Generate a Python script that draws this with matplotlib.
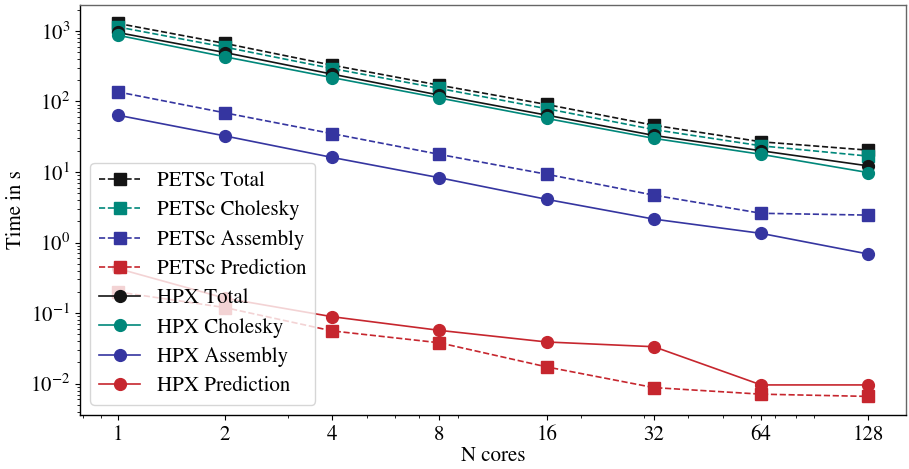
import matplotlib
matplotlib.use("Agg")
import matplotlib.pyplot as plt

# =============================================================================
# Data
# =============================================================================

cores = [1, 2, 4, 8, 16, 32, 64, 128]

petsc_total      = [1280, 665, 327, 170, 90.6, 46, 26.8, 20.4]
petsc_cholesky   = [1140, 590, 293, 153, 79, 40, 23.5, 16.8]
petsc_assembly   = [137, 69, 35, 17.8, 9.3, 4.7, 2.6, 2.45]
petsc_prediction = [0.2, 0.12, 0.056, 0.038, 0.0173, 0.0088, 0.0071, 0.0066]

hpx_total      = [950, 494, 244, 123, 64, 33, 20, 12.2]
hpx_cholesky   = [870, 430, 218, 112, 57.5, 30, 17.8, 9.8]
hpx_assembly   = [64, 32.5, 16.1, 8.3, 4.1, 2.15, 1.35, 0.687]
hpx_prediction = [0.43, 0.163, 0.089, 0.057, 0.039, 0.0334, 0.0096, 0.0096]

BLACK = "#141414"
TEAL  = "#00877a"
BLUE  = "#3535a0"
RED   = "#c6262e"

plt.rcParams["font.family"] = ["STIXGeneral", "DejaVu Serif"]
plt.rcParams["mathtext.fontset"] = "stix"
plt.rcParams["font.size"] = 15

fig = plt.figure(figsize=(9.09, 4.69), dpi=100)
ax = fig.add_axes([0.088, 0.115, 0.9087, 0.875])

series = [
    (petsc_total,      BLACK, "s", "--", "PETSc Total"),
    (petsc_cholesky,   TEAL,  "s", "--", "PETSc Cholesky"),
    (petsc_assembly,   BLUE,  "s", "--", "PETSc Assembly"),
    (petsc_prediction, RED,   "s", "--", "PETSc Prediction"),
    (hpx_total,        BLACK, "o", "-",  "HPX Total"),
    (hpx_cholesky,     TEAL,  "o", "-",  "HPX Cholesky"),
    (hpx_assembly,     BLUE,  "o", "-",  "HPX Assembly"),
    (hpx_prediction,   RED,   "o", "-",  "HPX Prediction"),
]

for values, color, marker, ls, label in series:
    ax.plot(cores, values, color=color, marker=marker, linestyle=ls,
            label=label, linewidth=1.2, markersize=8.5)

ax.set_xscale("log")
ax.set_yscale("log")
ax.set_xticks(cores)
ax.set_xticklabels([str(c) for c in cores])

ax.set_xlabel("N cores", labelpad=1)
ax.set_ylabel("Time in s", labelpad=3)

for side in ("left", "bottom"):
    ax.spines[side].set_color("black")
    ax.spines[side].set_linewidth(1.0)
for side in ("top", "right"):
    ax.spines[side].set_color("#666666")
    ax.spines[side].set_linewidth(1.0)

ax.legend(loc="lower left", fontsize=15, handlelength=2.0,
          borderpad=0.4, labelspacing=0.45, handletextpad=0.8)

fig.savefig("out.png", dpi=100)
